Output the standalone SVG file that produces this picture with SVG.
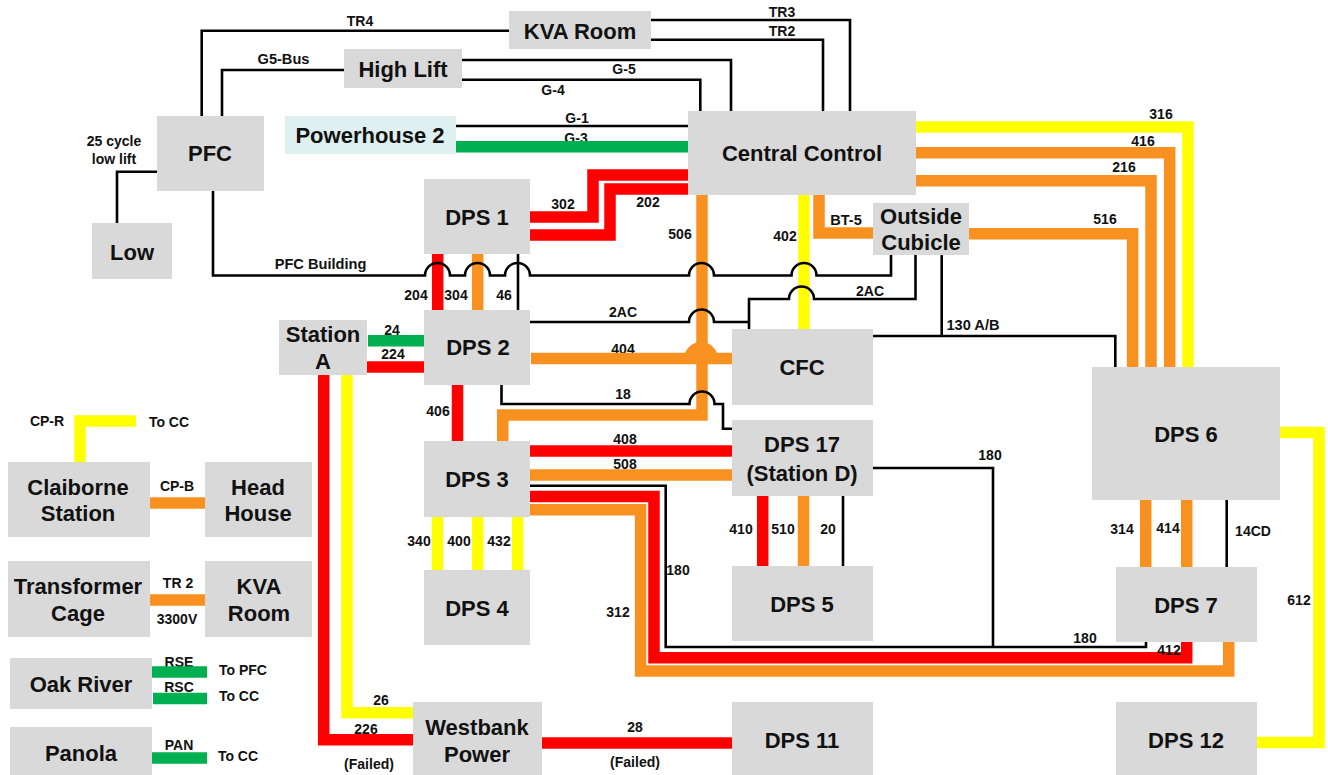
<svg xmlns="http://www.w3.org/2000/svg" width="1328" height="775" viewBox="0 0 1328 775">
<style>
.n{fill:#d9d9d9}
.t{font-family:"Liberation Sans",Arial,sans-serif;font-weight:700;font-size:22px;fill:#111;text-anchor:middle}
.l{font-family:"Liberation Sans",Arial,sans-serif;font-weight:700;font-size:14px;fill:#111;text-anchor:middle}
.w{font-size:14.6px}
.k{fill:none;stroke:#000;stroke-width:2.6}
.r,.o,.y,.g{fill:none;stroke-width:11.5}
.r{stroke:#f00}.o{stroke:#f99121}.y{stroke:#ff0}.g{stroke:#00b050}
</style>
<rect width="1328" height="775" fill="#fff"/>
<g id="labels-under">
<text class="l" x="576" y="143">G-3</text>
<text class="l" x="623" y="354">404</text>
<text class="l" x="366" y="734">226</text>
<text class="l" x="179" y="667">RSE</text>
<text class="l" x="179" y="692">RSC</text>
</g>
<g id="connectors">
<path class="r" d="M530 217H593V175H688"/>
<path class="r" d="M530 235H610V189H688"/>
<path class="r" d="M437.700 254V310"/>
<path class="o" d="M477.700 254V310"/>
<path class="g" d="M456 146.700H688"/>
<path class="y" d="M804 195V329"/>
<path class="o" d="M819 195V233H873"/>
<path class="o" d="M702 195V415H502.700V441"/>
<path class="o" d="M531 358.600H732"/>
<path d="M684 359a17 17 0 0 1 34 0Z" fill="#f99121"/>
<path class="r" d="M457.500 385V441"/>
<path class="g" d="M368 340.700H425"/>
<path class="r" d="M367 367H424"/>
<path class="r" d="M323.700 375V739.700H413"/>
<path class="y" d="M347 375V712.700H413"/>
<path class="r" d="M542 743H732"/>
<path class="r" d="M530 451H732"/>
<path class="o" d="M530 475H732"/>
<path class="r" d="M530 496.500H654V657.800H1186.700V642"/>
<path class="o" d="M530 509.700H640.600V671H1228.700V642"/>
<path class="y" d="M916 127H1188V367"/>
<path class="o" d="M916 152.700H1169.700V367"/>
<path class="o" d="M916 180.700H1151V367"/>
<path class="o" d="M969 233.700H1132.600V367"/>
<path class="o" d="M1145.700 500V567"/>
<path class="o" d="M1186.700 500V567"/>
<path class="y" d="M1280 432.500H1319V742.500H1257"/>
<path class="r" d="M762.700 496V566"/>
<path class="o" d="M803.500 496V566"/>
<path class="y" d="M437.500 517V570"/>
<path class="y" d="M477.700 517V570"/>
<path class="y" d="M517.700 517V570"/>
<path class="y" d="M80 462V421H136"/>
<path class="o" d="M150 503H206"/>
<path class="o" d="M150 600H206"/>
<path class="g" d="M152 672H207"/>
<path class="g" d="M153 698.500H207"/>
<path class="g" d="M152 758H207"/>
<path class="k" d="M201.700 116V30.700H509"/>
<path class="k" d="M222 116V70H344"/>
<path class="k" d="M157 171.700H117V223"/>
<path class="k" d="M462 60H731V111"/>
<path class="k" d="M462 79.700H700.300V111"/>
<path class="k" d="M651 20H850V111"/>
<path class="k" d="M651 39.700H823V111"/>
<path class="k" d="M456 126H688"/>
<path class="k" d="M213 191V275.500H425a12.500 12.500 0 0 1 25 0H465a12.500 12.500 0 0 1 25 0H505a12.500 12.500 0 0 1 25 0H689a12.500 12.500 0 0 1 25 0H791.500a12.500 12.500 0 0 1 25 0H891V255"/>
<path class="k" d="M518 254V310"/>
<path class="k" d="M915.500 255V299H814a12.500 12.500 0 0 0 -25 0H749V329"/>
<path class="k" d="M530 322H689a12.500 12.500 0 0 1 25 0H749"/>
<path class="k" d="M501.500 385V404H689.500a12.500 12.500 0 0 1 25 0H723V428.700H732"/>
<path class="k" d="M873 336H1115.300V367"/>
<path class="k" d="M941.700 255V336"/>
<path class="k" d="M873 468H993V647"/>
<path class="k" d="M530 485.700H665.700V647H1146V642"/>
<path class="k" d="M843 496V566"/>
<path class="k" d="M1226.700 500V567"/>
</g>
<g id="PFC"><rect class="n" x="157" y="116" width="107" height="75"/><text class="t" x="210" y="161">PFC</text></g>
<g id="Low"><rect class="n" x="92" y="223" width="80" height="56"/><text class="t" x="132" y="260">Low</text></g>
<g id="HighLift"><rect class="n" x="344" y="49" width="118" height="39"/><text class="t" x="403" y="77">High Lift</text></g>
<g id="KVARoom"><rect class="n" x="509" y="11" width="142" height="38"/><text class="t" x="580" y="39">KVA Room</text></g>
<g id="Powerhouse2"><rect x="285" y="116" width="171" height="38" fill="#def0ef"/><text class="t" x="370" y="143">Powerhouse 2</text></g>
<g id="CentralControl"><rect class="n" x="688" y="111" width="228" height="84"/><text class="t" x="802" y="161">Central Control</text></g>
<g id="DPS1"><rect class="n" x="424" y="179" width="106" height="75"/><text class="t" x="477" y="225">DPS 1</text></g>
<g id="OutsideCubicle"><rect class="n" x="873" y="203" width="96" height="52"/><text class="t" x="921" y="224">Outside</text><text class="t" x="921" y="250">Cubicle</text></g>
<g id="StationA"><rect class="n" x="279" y="320" width="88" height="55"/><text class="t" x="323" y="342">Station</text><text class="t" x="323" y="369">A</text></g>
<g id="DPS2"><rect class="n" x="424" y="310" width="106" height="75"/><text class="t" x="478" y="355">DPS 2</text></g>
<g id="CFC"><rect class="n" x="732" y="329" width="141" height="76"/><text class="t" x="802" y="375">CFC</text></g>
<g id="DPS17"><rect class="n" x="732" y="420" width="141" height="76"/><text class="t" x="802" y="452">DPS 17</text><text class="t" x="802" y="481">(Station D)</text></g>
<g id="DPS3"><rect class="n" x="424" y="441" width="106" height="76"/><text class="t" x="477" y="487">DPS 3</text></g>
<g id="DPS4"><rect class="n" x="424" y="570" width="106" height="75"/><text class="t" x="477" y="616">DPS 4</text></g>
<g id="DPS5"><rect class="n" x="732" y="566" width="141" height="75"/><text class="t" x="802" y="612">DPS 5</text></g>
<g id="DPS6"><rect class="n" x="1092" y="367" width="188" height="133"/><text class="t" x="1186" y="442">DPS 6</text></g>
<g id="DPS7"><rect class="n" x="1116" y="567" width="141" height="75"/><text class="t" x="1186" y="613">DPS 7</text></g>
<g id="DPS11"><rect class="n" x="732" y="702" width="141" height="73"/><text class="t" x="802" y="748">DPS 11</text></g>
<g id="DPS12"><rect class="n" x="1116" y="702" width="141" height="73"/><text class="t" x="1186" y="748">DPS 12</text></g>
<g id="WestbankPower"><rect class="n" x="413" y="702" width="129" height="73"/><text class="t" x="477" y="735">Westbank</text><text class="t" x="477" y="762">Power</text></g>
<g id="ClaiborneStation"><rect class="n" x="8" y="462" width="142" height="75"/><text class="t" x="78" y="495">Claiborne</text><text class="t" x="78" y="521">Station</text></g>
<g id="HeadHouse"><rect class="n" x="205" y="462" width="107" height="75"/><text class="t" x="258" y="495">Head</text><text class="t" x="258" y="521">House</text></g>
<g id="TransformerCage"><rect class="n" x="8" y="561" width="142" height="76"/><text class="t" x="78" y="594">Transformer</text><text class="t" x="78" y="621">Cage</text></g>
<g id="KVARoom2"><rect class="n" x="205" y="561" width="107" height="76"/><text class="t" x="259" y="594">KVA</text><text class="t" x="259" y="621">Room</text></g>
<g id="OakRiver"><rect class="n" x="10" y="658" width="142" height="51"/><text class="t" x="81" y="692">Oak River</text></g>
<g id="Panola"><rect class="n" x="10" y="727" width="142" height="48"/><text class="t" x="81" y="761">Panola</text></g>
<g id="labels">
<text class="l" x="360" y="26">TR4</text>
<text class="l w" x="283.500" y="64">G5-Bus</text>
<text class="l" x="114" y="146">25 cycle</text>
<text class="l" x="114" y="164">low lift</text>
<text class="l w" x="320.500" y="269">PFC Building</text>
<text class="l" x="782" y="17">TR3</text>
<text class="l" x="782" y="36">TR2</text>
<text class="l" x="624" y="74">G-5</text>
<text class="l" x="553" y="95">G-4</text>
<text class="l" x="577" y="123">G-1</text>
<text class="l" x="563" y="209">302</text>
<text class="l" x="648" y="207">202</text>
<text class="l" x="680" y="239">506</text>
<text class="l" x="785" y="241">402</text>
<text class="l w" x="846" y="225">BT-5</text>
<text class="l" x="416" y="300">204</text>
<text class="l" x="456" y="300">304</text>
<text class="l" x="504" y="300">46</text>
<text class="l" x="623" y="317">2AC</text>
<text class="l" x="870" y="296">2AC</text>
<text class="l w" x="973" y="330">130 A/B</text>
<text class="l" x="392" y="335">24</text>
<text class="l" x="393" y="359">224</text>
<text class="l" x="623" y="399">18</text>
<text class="l" x="438" y="416">406</text>
<text class="l" x="625" y="444">408</text>
<text class="l" x="625" y="469">508</text>
<text class="l" x="990" y="460">180</text>
<text class="l" x="678" y="575">180</text>
<text class="l" x="618" y="617">312</text>
<text class="l" x="741" y="534">410</text>
<text class="l" x="783" y="534">510</text>
<text class="l" x="828" y="534">20</text>
<text class="l" x="419" y="546">340</text>
<text class="l" x="459" y="546">400</text>
<text class="l" x="499" y="546">432</text>
<text class="l" x="1122" y="534">314</text>
<text class="l" x="1168" y="533">414</text>
<text class="l" x="1253" y="536">14CD</text>
<text class="l" x="1085" y="643">180</text>
<text class="l" x="1169" y="655">412</text>
<text class="l" x="1299" y="605">612</text>
<text class="l" x="1161" y="119">316</text>
<text class="l" x="1143" y="146">416</text>
<text class="l" x="1124" y="172">216</text>
<text class="l" x="1105" y="224">516</text>
<text class="l" x="381" y="705">26</text>
<text class="l" x="369" y="769">(Failed)</text>
<text class="l" x="635" y="732">28</text>
<text class="l" x="635" y="767">(Failed)</text>
<text class="l" x="47" y="426">CP-R</text>
<text class="l" x="169" y="427">To CC</text>
<text class="l" x="177" y="491">CP-B</text>
<text class="l" x="178" y="588">TR 2</text>
<text class="l" x="177" y="624">3300V</text>
<text class="l" x="243" y="675">To PFC</text>
<text class="l" x="239" y="701">To CC</text>
<text class="l" x="179" y="750">PAN</text>
<text class="l" x="238" y="761">To CC</text>
</g>
</svg>
